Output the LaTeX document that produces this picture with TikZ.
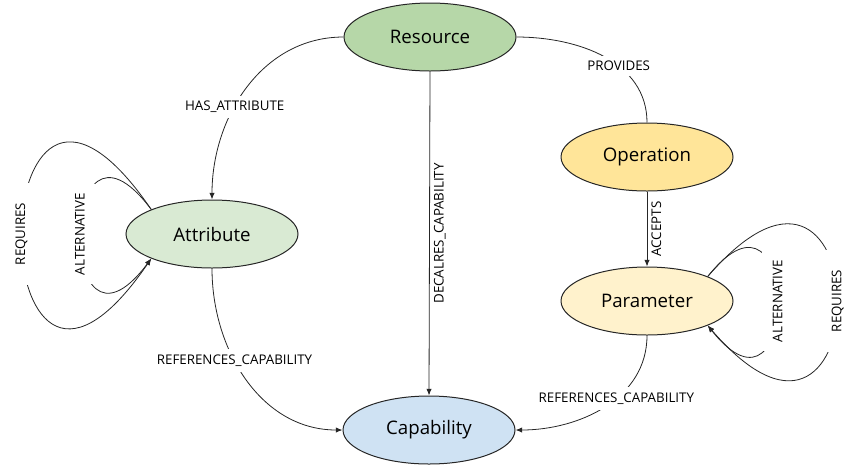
\documentclass[tikz,border=0pt]{standalone}
\usepackage{fontspec}
\setmainfont{Open Sans}
\usepackage{xcolor}
\usetikzlibrary{arrows.meta}
\usetikzlibrary{shapes.geometric}

\definecolor{resfill}{HTML}{B6D7A8}
\definecolor{opfill}{HTML}{FFE599}
\definecolor{attfill}{HTML}{D9EAD3}
\definecolor{parfill}{HTML}{FFF2CC}
\definecolor{capfill}{HTML}{CFE2F3}

\begin{document}
\begin{tikzpicture}[x=0.75pt, y=0.75pt,
    entity/.style={ellipse, draw=black!85, line width=0.75pt, inner sep=0pt,
        minimum width=129pt, minimum height=51pt, font=\fontsize{14}{16}\selectfont},
    rel/.style={draw=black!85, line width=0.6pt},
    tip/.style={-{Latex[length=5pt,width=4pt]}},
    lbl/.style={fill=white, inner sep=4pt, font=\fontsize{10}{12}\selectfont},
    looplbl/.style={fill=white, rotate=90, inner xsep=7pt, inner ysep=8pt, font=\fontsize{10}{12}\selectfont},
    sidelbl/.style={rotate=90, anchor=north, inner sep=3pt, font=\fontsize{10}{12}\selectfont}]
    \useasboundingbox (0,0) rectangle (853,-469);

    % entities
    \node[entity, fill=resfill] (res) at (430,-37) {Resource};
    \node[entity, fill=opfill] (op) at (647,-157) {Operation};
    \node[entity, fill=attfill] (att) at (212,-234) {Attribute};
    \node[entity, fill=parfill] (par) at (647,-301) {Parameter};
    \node[entity, fill=capfill] (cap) at (429,-430) {Capability};

    % relations
    \draw[rel, tip] (res.west) to[out=180, in=90] node[lbl, pos=0.6] {HAS\_ATTRIBUTE} (att.north);
    \draw[rel] (res.east) to[out=0, in=90] node[lbl, pos=0.6] {PROVIDES} (op.north);
    \draw[rel, tip] (res.south) -- node[sidelbl] {DECALRES\_CAPABILITY} (cap.north);
    \draw[rel, tip] (op.south) -- node[sidelbl] {ACCEPTS} (par.north);
    \draw[rel, tip] (att.south) to[out=270, in=180] node[lbl, pos=0.4] {REFERENCES\_CAPABILITY} (cap.west);
    \draw[rel, tip] (par.south) to[out=270, in=0] node[lbl, pos=0.42] {REFERENCES\_CAPABILITY} (cap.east);

    % self loops
    \draw[rel, tip] (att.158) .. controls (-22,43) and (-22,-511) .. node[looplbl, inner xsep=15pt] {REQUIRES} (att.202);
    \draw[rel, tip] (att.158) .. controls (56,-82) and (56,-386) .. node[looplbl] {ALTERNATIVE} (att.202);
    \draw[rel, tip] (par.22) .. controls (801,-159) and (801,-443) .. node[looplbl] {ALTERNATIVE} (par.-22);
    \draw[rel, tip] (par.22) .. controls (881,-76) and (881,-526) .. node[looplbl, inner xsep=15pt] {REQUIRES} (par.-22);
\end{tikzpicture}
\end{document}
